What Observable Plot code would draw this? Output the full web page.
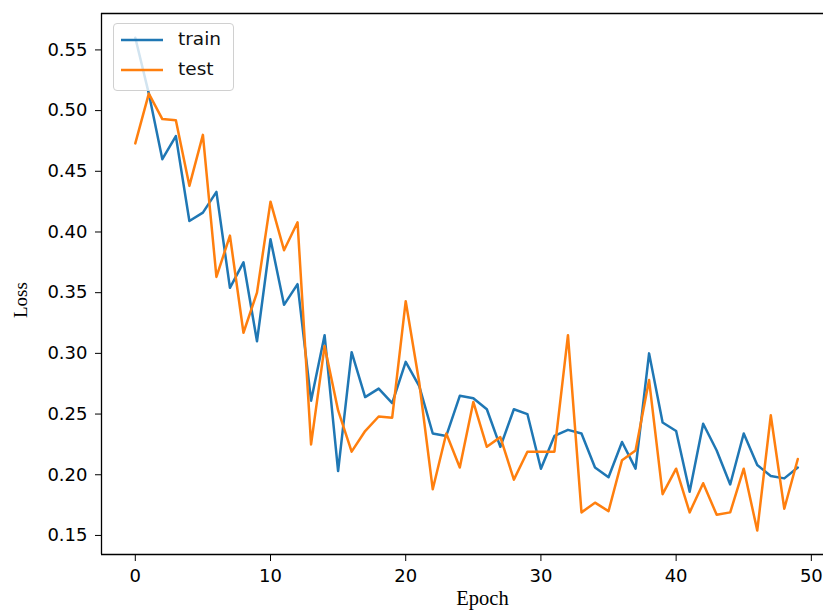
<!DOCTYPE html>
<html><head><meta charset="utf-8">
<script src="https://cdn.jsdelivr.net/npm/d3@7"></script>
<script src="https://cdn.jsdelivr.net/npm/@observablehq/plot@0.6"></script>
<style>
body{margin:0;background:#fff}
#wrap{position:relative;width:823px;height:615px;overflow:hidden}
#legend{position:absolute;left:113px;top:23px;width:119px;height:66px;border:1px solid #d0d0d0;border-radius:4px;background:rgba(255,255,255,0.8);font-family:"DejaVu Sans",sans-serif;font-size:18.5px;color:#111}
#legend .row{position:absolute;left:0;height:20px;display:flex;align-items:center}
#legend .row span{position:absolute;left:64px;white-space:nowrap;line-height:20px;top:-1px}
</style>
</head><body><div id="wrap"></div>
<script>
const seriesNames = ["train", "test"];
const seriesColors = ["#1f77b4", "#ff7f0e"];
const trainLoss = [0.560,0.514,0.460,0.479,0.409,0.416,0.433,0.354,0.375,0.310,
  0.394,0.340,0.357,0.261,0.315,0.203,0.301,0.264,0.271,0.259,
  0.293,0.273,0.234,0.232,0.265,0.263,0.254,0.223,0.254,0.250,
  0.205,0.232,0.237,0.234,0.206,0.198,0.227,0.205,0.300,0.243,
  0.236,0.186,0.242,0.220,0.192,0.234,0.208,0.199,0.197,0.206];
const testLoss = [0.473,0.514,0.493,0.492,0.438,0.480,0.363,0.397,0.317,0.350,
  0.425,0.385,0.408,0.225,0.306,0.253,0.219,0.236,0.248,0.247,
  0.343,0.276,0.188,0.234,0.206,0.260,0.223,0.231,0.196,0.219,
  0.219,0.219,0.315,0.169,0.177,0.170,0.212,0.220,0.278,0.184,
  0.205,0.169,0.193,0.167,0.169,0.205,0.154,0.249,0.172,0.213];
const xTicks = [0, 10, 20, 30, 40, 50];
const yTicks = [0.15, 0.20, 0.25, 0.30, 0.35, 0.40, 0.45, 0.50, 0.55];
const xLabel = "Epoch";
const yLabel = "Loss";

const xDomain = [-2.5, 50.9];
const yDomain = [0.1343, 0.580];

const rows = [];
[trainLoss, testLoss].forEach((arr, s) => arr.forEach((v, i) => rows.push({epoch: i, loss: v, series: seriesNames[s]})));

const chart = Plot.plot({
  width: 823, height: 615,
  marginLeft: 101, marginRight: 0, marginTop: 13, marginBottom: 61,
  style: {fontFamily: "DejaVu Sans, sans-serif", fontSize: "18px", color: "#000", background: "#fff"},
  x: {domain: xDomain, ticks: xTicks, label: null},
  y: {domain: yDomain, ticks: yTicks, label: null, tickFormat: d3.format(".2f")},
  color: {domain: seriesNames, range: seriesColors},
  marks: [
    Plot.lineY(rows, {x: "epoch", y: "loss", stroke: "series", z: "series", strokeWidth: 2.5}),
    Plot.ruleX([xDomain[0]], {stroke: "#000", strokeWidth: 1.3}),
    Plot.ruleY([yDomain[0]], {stroke: "#000", strokeWidth: 1.3}),
    Plot.ruleY([yDomain[1]], {stroke: "#000", strokeWidth: 1.3}),
    Plot.axisX({ticks: xTicks, tickSize: 7, tickPadding: 8, fontSize: 18, label: null}),
    Plot.axisY({ticks: yTicks, tickSize: 6, tickPadding: 8, fontSize: 18, label: null, tickFormat: d3.format(".2f")}),
    Plot.text([xLabel], {frameAnchor: "bottom", dx: 20, dy: 50, fontFamily: "Liberation Serif, serif", fontSize: 20.5, fill: "#000"}),
    Plot.text([yLabel], {frameAnchor: "left", dx: -81, dy: 34, rotate: -90, fontFamily: "Liberation Serif, serif", fontSize: 19, fill: "#000"})
  ]
});
const wrap = document.getElementById("wrap");
wrap.appendChild(chart);

const legend = document.createElement("div");
legend.id = "legend";
seriesNames.forEach((name, i) => {
  const row = document.createElement("div");
  row.className = "row";
  row.style.top = (6 + i * 30) + "px";
  row.innerHTML = `<svg width="60" height="20"><line x1="7" x2="49" y1="10" y2="10" stroke="${seriesColors[i]}" stroke-width="2.5"/></svg><span>${name}</span>`;
  legend.appendChild(row);
});
wrap.appendChild(legend);
</script>
</body></html>
